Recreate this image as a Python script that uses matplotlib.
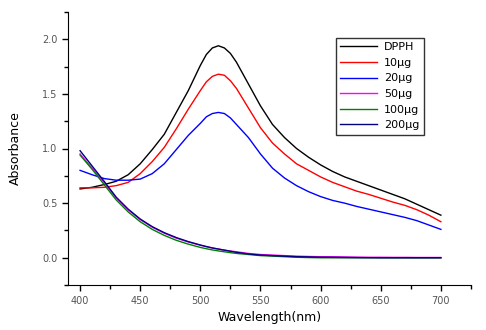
import matplotlib
matplotlib.use("Agg")
import matplotlib.pyplot as plt
from matplotlib.ticker import MultipleLocator

wavelength = [400, 410, 420, 430, 440, 450, 460, 470, 480, 490, 500, 505, 510, 515,
              520, 525, 530, 540, 550, 560, 570, 580, 590, 600, 610, 620, 630, 640,
              650, 660, 670, 680, 690, 700]

dpph = [0.63, 0.645, 0.67, 0.70, 0.76, 0.86, 0.99, 1.13, 1.33, 1.53, 1.76, 1.86, 1.92, 1.94,
        1.92, 1.87, 1.79, 1.59, 1.39, 1.22, 1.10, 1.00, 0.92, 0.85, 0.79, 0.74, 0.70, 0.66,
        0.62, 0.58, 0.54, 0.49, 0.44, 0.39]
ug10 = [0.64, 0.64, 0.645, 0.66, 0.69, 0.77, 0.88, 1.01, 1.18, 1.36, 1.53, 1.61, 1.66, 1.68,
        1.67, 1.62, 1.55, 1.37, 1.19, 1.05, 0.95, 0.86, 0.80, 0.74, 0.69, 0.65, 0.61, 0.58,
        0.545, 0.51, 0.48, 0.44, 0.39, 0.33]
ug20 = [0.80, 0.76, 0.725, 0.71, 0.71, 0.72, 0.77, 0.86, 0.99, 1.12, 1.23, 1.29, 1.32, 1.33,
        1.32, 1.28, 1.22, 1.10, 0.95, 0.82, 0.73, 0.66, 0.605, 0.56, 0.525, 0.50, 0.47, 0.445,
        0.42, 0.395, 0.37, 0.34, 0.30, 0.26]
ug50 = [0.95, 0.82, 0.69, 0.55, 0.44, 0.35, 0.28, 0.225, 0.18, 0.145, 0.115, 0.102, 0.09, 0.08,
        0.07, 0.062, 0.055, 0.04, 0.03, 0.025, 0.02, 0.015, 0.012, 0.01, 0.01, 0.008, 0.006, 0.005,
        0.005, 0.004, 0.004, 0.003, 0.003, 0.003]
ug100 = [0.94, 0.81, 0.67, 0.53, 0.42, 0.33, 0.26, 0.205, 0.16, 0.125, 0.095, 0.083, 0.072, 0.063,
         0.055, 0.047, 0.04, 0.03, 0.02, 0.015, 0.01, 0.005, 0.002, 0.0, 0.0, 0.0, 0.0, 0.0,
         0.0, 0.0, 0.0, 0.0, 0.0, 0.0]
ug200 = [0.98, 0.84, 0.70, 0.555, 0.445, 0.355, 0.285, 0.23, 0.185, 0.148, 0.117, 0.103, 0.09, 0.08,
         0.07, 0.06, 0.05, 0.035, 0.025, 0.02, 0.015, 0.01, 0.008, 0.005, 0.004, 0.003, 0.002, 0.001,
         0.0, 0.0, 0.0, 0.0, 0.0, 0.0]

series = [dpph, ug10, ug20, ug50, ug100, ug200]
labels = ['DPPH', '10µg', '20µg', '50µg', '100µg', '200µg']
colors = ['black', 'red', 'blue', 'magenta', 'green', 'navy']

fig = plt.figure(figsize=(4.86, 3.30), dpi=100)
ax = fig.add_axes([0.14, 0.136, 0.829, 0.828])

for y, lab, c in zip(series, labels, colors):
    ax.plot(wavelength, y, color=c, lw=1.0, label=lab)

ax.set_xlim(390, 725)
ax.set_ylim(-0.25, 2.25)
ax.xaxis.set_major_locator(MultipleLocator(50))
ax.xaxis.set_minor_locator(MultipleLocator(25))
ax.yaxis.set_major_locator(MultipleLocator(0.5))
ax.yaxis.set_minor_locator(MultipleLocator(0.25))
ax.yaxis.set_major_formatter(matplotlib.ticker.FormatStrFormatter('%.1f'))

for s in ['top', 'right']:
    ax.spines[s].set_visible(False)
ax.tick_params(which='major', direction='out', length=4, width=1,
               labelsize=7, labelcolor='#555555')
ax.tick_params(which='minor', direction='out', length=3, width=1)

ax.set_xlabel('Wavelength(nm)', fontsize=9)
ax.set_ylabel('Absorbance', fontsize=9, labelpad=15)

leg = ax.legend(loc='upper left', bbox_to_anchor=(0.665, 0.905), fontsize=8,
                frameon=True, fancybox=False, edgecolor='black',
                handlelength=3.3, handletextpad=0.6, labelspacing=0.5,
                borderpad=0.4, borderaxespad=0)
leg.get_frame().set_linewidth(1.0)

plt.savefig('out.png', dpi=100)
